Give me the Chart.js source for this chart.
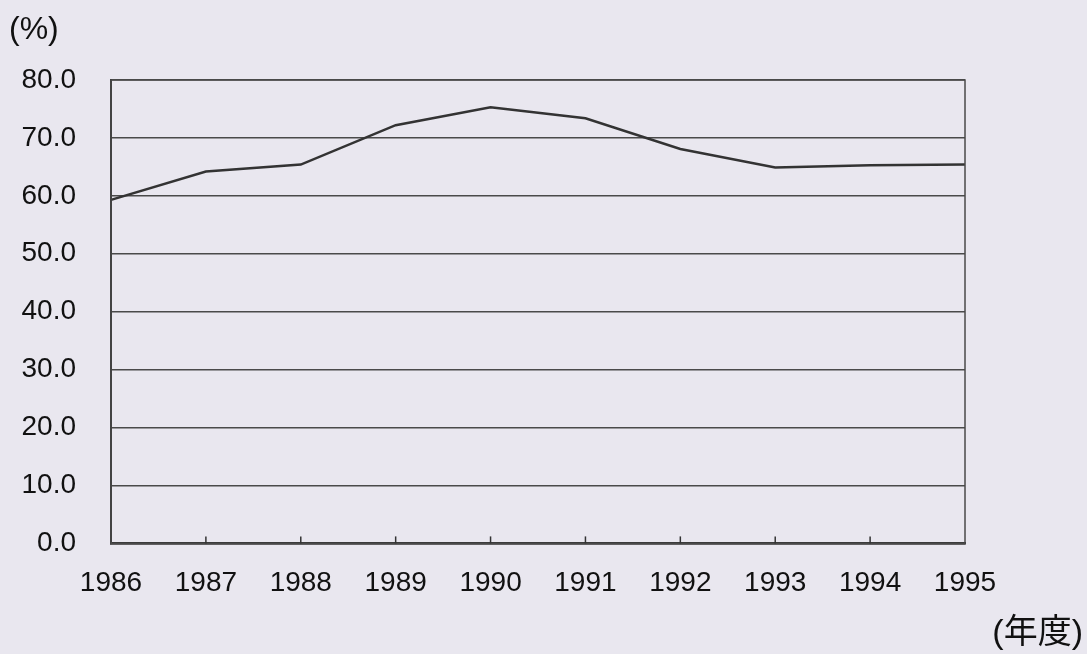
<!DOCTYPE html>
<html>
<head>
<meta charset="utf-8">
<script src="https://cdn.jsdelivr.net/npm/chart.js@4"></script>
<style>
  html, body { margin: 0; padding: 0; background: #e9e7ef; }
  #wrap { width: 1087px; height: 654px; }
</style>
</head>
<body>
<div id="wrap"><canvas id="rateChart" width="1087" height="654"></canvas></div>
<script>
var years = ['1986', '1987', '1988', '1989', '1990', '1991', '1992', '1993', '1994', '1995'];
var rates = [59.3, 64.2, 65.4, 72.2, 75.3, 73.4, 68.1, 64.9, 65.3, 65.4];
var yTicks = [0, 10, 20, 30, 40, 50, 60, 70, 80];

var inkColor = '#333';
var tickFont = '"Liberation Sans", Arial, sans-serif';
var unitFont = '"Liberation Sans", Arial, "Noto Sans CJK JP", sans-serif';

// frame, inner x tick marks and the two unit labels
var framePlugin = {
    id: 'frame',
    afterDraw: function (chart) {
        var c = chart.ctx;
        var a = chart.chartArea;
        var x = chart.scales.x;
        c.save();
        c.strokeStyle = '#4a4a4a';
        c.lineWidth = 1.5;
        c.strokeRect(a.left, a.top, a.right - a.left, a.bottom - a.top);
        c.strokeStyle = inkColor;
        c.lineWidth = 1.5;
        for (var i = 1; i < years.length - 1; i++) {
            var px = x.getPixelForValue(i);
            c.beginPath();
            c.moveTo(px, a.bottom);
            c.lineTo(px, a.bottom - 7);
            c.stroke();
        }
        c.fillStyle = '#111';
        c.textBaseline = 'middle';
        c.textAlign = 'left';
        c.font = '32px ' + unitFont;
        c.fillText('(%)', 9, 30);
        c.textAlign = 'right';
        c.font = '34px ' + unitFont;
        c.fillText('(年度)', 1083, 634);
        c.restore();
    }
};

var ctx = document.getElementById('rateChart').getContext('2d');
var chart = new Chart(ctx, {
    type: 'line',
    data: {
        labels: years,
        datasets: [{
            data: rates,
            borderColor: inkColor,
            borderWidth: 2.5,
            pointRadius: 0,
            tension: 0,
            fill: false
        }]
    },
    options: {
        responsive: false,
        animation: false,
        layout: {
            padding: { left: 0, right: 122, top: 80, bottom: 39 }
        },
        plugins: {
            legend: { display: false },
            tooltip: { enabled: false }
        },
        scales: {
            x: {
                offset: false,
                grid: { display: false },
                border: { display: true, color: inkColor, width: 2.5 },
                ticks: {
                    color: '#111',
                    font: { family: tickFont, size: 28 },
                    padding: 15,
                    maxRotation: 0,
                    autoSkip: false
                }
            },
            y: {
                min: 0,
                max: 80,
                afterBuildTicks: function (axis) {
                    axis.ticks = yTicks.map(function (v) { return { value: v }; });
                },
                afterFit: function (axis) { axis.width = 111; },
                grid: { color: '#4a4a4a', lineWidth: 1.5, drawTicks: false },
                border: { display: true, color: inkColor, width: 2 },
                ticks: {
                    color: '#111',
                    font: { family: tickFont, size: 28 },
                    padding: 35,
                    callback: function (v) { return v.toFixed(1); }
                }
            }
        }
    },
    plugins: [framePlugin]
});
</script>
</body>
</html>
